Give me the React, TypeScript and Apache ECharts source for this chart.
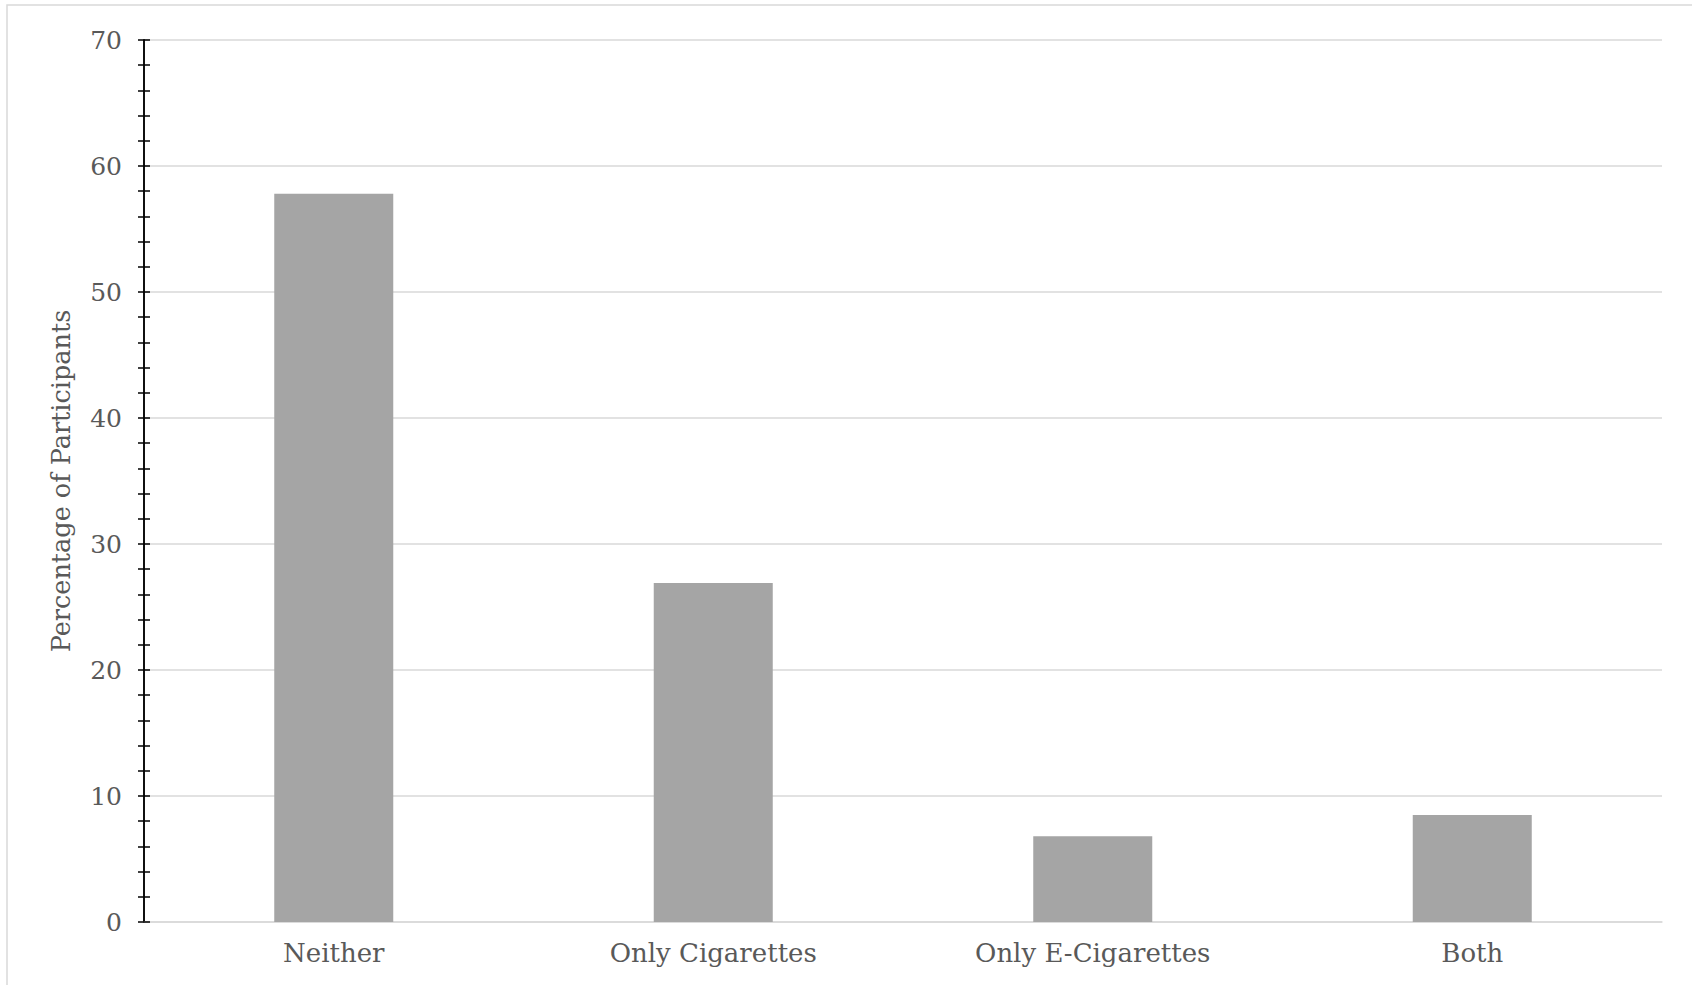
import React, { useEffect, useRef } from "react";
import * as echarts from "echarts";

const categories = ["Neither", "Only Cigarettes", "Only E-Cigarettes", "Both"];
const percentages = [57.8, 26.9, 6.8, 8.5];
const yAxisTitle = "Percentage of Participants";

const FONT = "'DejaVu Serif', serif";
const TEXT = "#595959";
const GRID = "#d9d9d9";

export default function App() {
  const ref = useRef<HTMLDivElement>(null);

  useEffect(() => {
    document.body.style.margin = "0";
    const chart = echarts.init(ref.current!, null, { renderer: "svg" });
    const tickCommon = {
      min: 0,
      max: 70,
      interval: 10,
      axisLine: { show: true, lineStyle: { color: "#000", width: 1.5 } },
      axisTick: { show: true, length: 6, lineStyle: { color: "#000", width: 1.5 } },
      minorTick: { show: true, splitNumber: 5, length: 6, lineStyle: { color: "#000", width: 1.5 } },
    };
    chart.setOption({
      animation: false,
      backgroundColor: "#fff",
      grid: { left: 144, right: 30, top: 40, bottom: 63, containLabel: false },
      xAxis: {
        type: "category",
        data: categories,
        axisLine: { lineStyle: { color: GRID, width: 1.5 } },
        axisTick: { show: false },
        axisLabel: { color: TEXT, fontFamily: FONT, fontSize: 26, margin: 18 },
      },
      yAxis: [
        {
          type: "value",
          ...tickCommon,
          axisTick: { ...tickCommon.axisTick, inside: false },
          splitLine: { show: true, lineStyle: { color: GRID, width: 1.5 } },
          axisLabel: { color: TEXT, fontFamily: FONT, fontSize: 25, margin: 22 },
          name: yAxisTitle,
          nameLocation: "middle",
          nameRotate: 90,
          nameGap: 70,
          nameTextStyle: { color: TEXT, fontFamily: FONT, fontSize: 25.5 },
        },
        {
          type: "value",
          position: "left",
          ...tickCommon,
          axisTick: { ...tickCommon.axisTick, inside: true },
          splitLine: { show: false },
          axisLabel: { show: false },
        },
      ],
      series: [
        {
          type: "bar",
          data: percentages,
          barWidth: 119,
          itemStyle: { color: "#a5a5a5" },
        },
      ],
      graphic: [
        {
          type: "rect",
          shape: { x: 7, y: 5, width: 1700, height: 1000 },
          style: { fill: "none", stroke: GRID, lineWidth: 1.5 },
          silent: true,
        },
      ],
    });
    return () => chart.dispose();
  }, []);

  return <div ref={ref} style={{ width: 1692, height: 985 }} />;
}
